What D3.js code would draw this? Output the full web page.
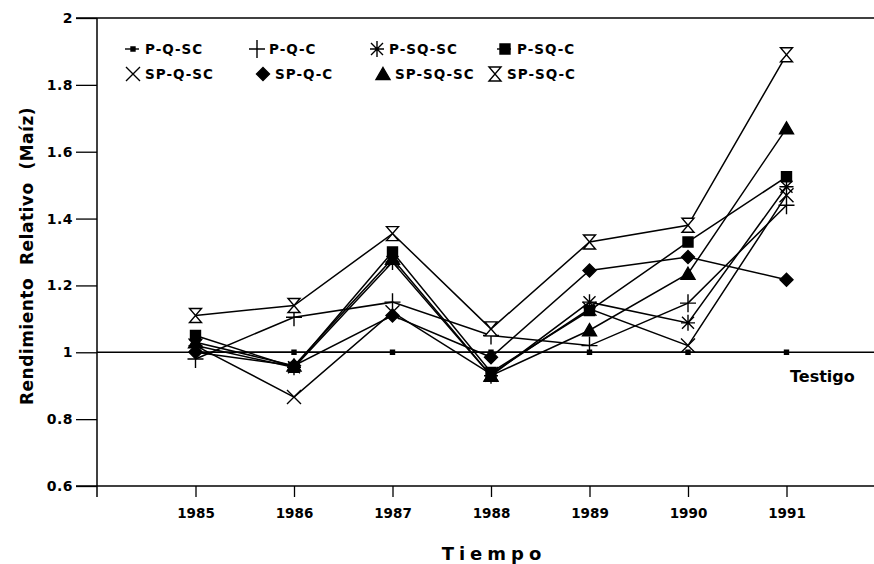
<!DOCTYPE html>
<html>
<head>
<meta charset="utf-8">
<script src="https://cdn.jsdelivr.net/npm/d3@7"></script>
<style>
  body { margin: 0; background: #fff; }
  svg { font-family: "DejaVu Sans", sans-serif; font-weight: bold; }
</style>
</head>
<body>
<svg width="874" height="564"></svg>
<script>
// data
const years = [1985, 1986, 1987, 1988, 1989, 1990, 1991]
const seriesNames = ['P-Q-SC', 'P-Q-C', 'P-SQ-SC', 'P-SQ-C', 'SP-Q-SC', 'SP-Q-C', 'SP-SQ-SC', 'SP-SQ-C']
const pqsc   = [1.00, 1.00, 1.00, 1.00, 1.00, 1.00, 1.00]
const pqc    = [0.98, 1.105, 1.15, 1.05, 1.02, 1.147, 1.44]
const psqsc  = [1.02, 0.955, 1.27, 0.93, 1.15, 1.088, 1.495]
const psqc   = [1.05, 0.955, 1.30, 0.94, 1.125, 1.33, 1.525]
const spqsc  = [1.02, 0.866, 1.12, 0.935, 1.13, 1.02, 1.47]
const spqc   = [1.00, 0.96, 1.11, 0.985, 1.245, 1.285, 1.217]
const spsqsc = [1.03, 0.96, 1.28, 0.93, 1.066, 1.235, 1.67]
const spsqc  = [1.11, 1.14, 1.355, 1.07, 1.33, 1.38, 1.89]
const yTicks = [0.6, 0.8, 1, 1.2, 1.4, 1.6, 1.8, 2]
const yTickLabels = ['0.6', '0.8', '1', '1.2', '1.4', '1.6', '1.8', '2']

const values = [pqsc, pqc, psqsc, psqc, spqsc, spqc, spsqsc, spsqc]

const svg = d3.select('svg'),
    width = +svg.attr('width'),
    height = +svg.attr('height')

const x = d3.scaleLinear().domain([1984, 1992]).range([97, 885])
const y = d3.scaleLinear().domain([0.6, 2]).range([486, 18])

// marker shapes, one per series
const markerPaths = [
    'M-2,-2H2V2H-2Z',                                   // small dot
    'M-8,0H8M0,-9V9',                                   // plus
    'M-7,0H7M0,-8V8M-6,-6L6,6M-6,6L6,-6',               // asterisk
    'M-5,-5H5V5H-5Z',                                   // square
    'M-7,-7L7,7M-7,7L7,-7',                             // x
    'M0,-6.5L6.5,0L0,6.5L-6.5,0Z',                      // diamond
    'M0,-6.5L7,5.5H-7Z',                                // triangle
    'M-6,-7H6L-6,7H6Z'                                  // hourglass
]
const markerFill = ['#000', 'none', 'none', '#000', 'none', '#000', '#000', '#fff']

// frame top line
svg.append('line')
    .attr('x1', 76).attr('x2', width)
    .attr('y1', y(2)).attr('y2', y(2))
    .attr('stroke', '#000').attr('stroke-width', 1.4)

// reference line at 1 (Testigo)
svg.append('line')
    .attr('x1', x(1984)).attr('x2', width)
    .attr('y1', y(1)).attr('y2', y(1))
    .attr('stroke', '#000').attr('stroke-width', 1.5)

// y axis
const yAxis = svg.append('g')
    .attr('transform', `translate(${x(1984)},0)`)
    .call(d3.axisLeft(y).tickValues(yTicks).tickSize(21).tickFormat((d, i) => yTickLabels[i]))
yAxis.select('.domain').remove()
yAxis.selectAll('line').attr('stroke', '#000').attr('stroke-width', 1.3)
yAxis.selectAll('text')
    .attr('x', -24)
    .style('font-size', '14px').style('font-weight', 'bold')
    .style('font-family', '"DejaVu Sans", sans-serif')
    .style('letter-spacing', '0.5px')
    .attr('fill', '#000')
svg.append('line')
    .attr('x1', x(1984)).attr('x2', x(1984))
    .attr('y1', y(2)).attr('y2', y(0.6) + 11)
    .attr('stroke', '#000').attr('stroke-width', 1.5)

// x axis
const xAxis = svg.append('g')
    .attr('transform', `translate(0,${y(0.6)})`)
    .call(d3.axisBottom(x).tickValues(years.concat([1992])).tickSize(11).tickFormat(d => d > 1991 ? '' : d))
xAxis.select('.domain').remove()
xAxis.selectAll('line').attr('stroke', '#000').attr('stroke-width', 1.3)
xAxis.selectAll('text')
    .attr('y', 22)
    .style('font-size', '13.5px').style('font-weight', 'bold')
    .style('font-family', '"DejaVu Sans", sans-serif')
    .attr('fill', '#000')
svg.append('line')
    .attr('x1', 76).attr('x2', width)
    .attr('y1', y(0.6)).attr('y2', y(0.6))
    .attr('stroke', '#000').attr('stroke-width', 1.4)

// series lines
const line = d3.line()
    .x((d, i) => x(years[i]))
    .y(d => y(d))

svg.selectAll('.serie')
    .data(values)
    .enter()
    .append('path')
    .attr('class', 'serie')
    .attr('d', d => line(d))
    .attr('fill', 'none')
    .attr('stroke', '#000')
    .attr('stroke-width', 1.5)

// markers
values.forEach((serie, s) => {
    svg.selectAll('.m' + s)
        .data(serie)
        .enter()
        .append('path')
        .attr('class', 'm' + s)
        .attr('transform', (d, i) => `translate(${x(years[i])},${y(d)})`)
        .attr('d', markerPaths[s])
        .attr('fill', markerFill[s])
        .attr('stroke', '#000')
        .attr('stroke-width', 1.4)
})

// legend
const legendX = [133, 257, 377, 505, 133, 263, 383, 495]
const legendRows = [49, 74]
const legend = svg.append('g').attr('class', 'legend')
seriesNames.forEach((name, s) => {
    const lx = legendX[s], ly = legendRows[Math.floor(s / 4)]
    if (s === 0 || s === 3) {
        legend.append('line')
            .attr('x1', lx - 8).attr('x2', lx + 6)
            .attr('y1', ly).attr('y2', ly)
            .attr('stroke', '#000').attr('stroke-width', 1.4)
    }
    legend.append('path')
        .attr('transform', `translate(${lx},${ly})`)
        .attr('d', markerPaths[s])
        .attr('fill', markerFill[s])
        .attr('stroke', '#000')
        .attr('stroke-width', 1.4)
    legend.append('text')
        .attr('x', lx + 12)
        .attr('y', ly + 5)
        .style('font-size', '13.5px')
        .style('letter-spacing', '1px')
        .text(name)
})

// labels
svg.append('text')
    .attr('x', 790).attr('y', 382)
    .style('font-size', '16px')
    .text('Testigo')

svg.append('text')
    .attr('transform', `translate(33,${(y(0.6) + y(2)) / 2 + 4}) rotate(-90)`)
    .attr('text-anchor', 'middle')
    .style('font-size', '17px')
    .style('letter-spacing', '0.5px')
    .attr('xml:space', 'preserve')
    .text('Rendimiento  Relativo  (Maíz)')

svg.append('text')
    .attr('x', 494).attr('y', 560)
    .attr('text-anchor', 'middle')
    .style('font-size', '18px')
    .style('letter-spacing', '5px')
    .text('Tiempo')
</script>
</body>
</html>
